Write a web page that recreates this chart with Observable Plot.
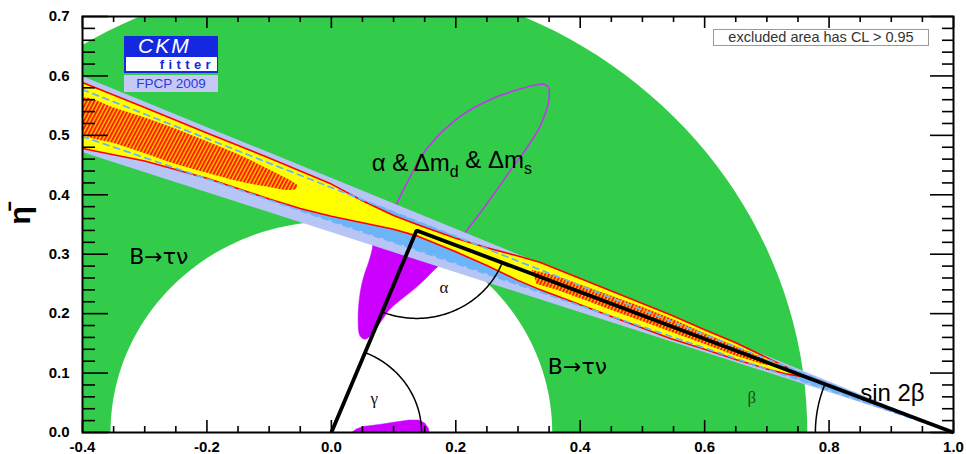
<!DOCTYPE html>
<html>
<head>
<meta charset="utf-8">
<script src="https://cdn.jsdelivr.net/npm/d3@7"></script>
<script src="https://cdn.jsdelivr.net/npm/@observablehq/plot@0.6"></script>
<style>
  body { margin: 0; background: #fff; }
  #wrap { position: relative; width: 966px; height: 454px; font-family: "Liberation Sans", Arial, sans-serif; }
  .legend { position: absolute; left: 713px; top: 29px; width: 214px; height: 15px; border: 1.5px solid #9a9a9a;
            background: #fff; color: #333; font-size: 14.5px; line-height: 15px; text-align: center; }
  .logo { position: absolute; left: 124px; top: 36px; width: 94px; }
  .logo .ckm { height: 21px; background: #1428e0; color: #fff; font-style: italic; font-size: 21px; line-height: 19px; padding-left: 14px; letter-spacing: 2px; }
  .logo .fit { height: 14px; background: #fff; border-left: 2px solid #1428e0; border-bottom: 2px solid #1428e0; border-right: 1px solid #1428e0;
               color: #1428e0; font-weight: bold; font-size: 13px; line-height: 16px; text-align: right; padding-right: 2px; letter-spacing: 4.4px; }
  .logo .fpcp { margin-top: 2px; height: 17px; background: #c6c9f6; color: #2a3adf; font-size: 13.5px; line-height: 17px; text-align: center; }
</style>
</head>
<body>
<svg width="0" height="0" style="position:absolute">
  <defs>
    <pattern id="hatch" width="3.4" height="3.4" patternUnits="userSpaceOnUse" patternTransform="rotate(28)">
      <rect width="3.4" height="3.4" fill="#ffcc00"></rect>
      <rect width="2" height="3.4" fill="#ff1a00"></rect>
    </pattern>
  </defs>
</svg>
<div id="wrap">
  <div id="chart"></div>
  <div class="logo">
    <div class="ckm">CKM</div>
    <div class="fit">fitter</div>
    <div class="fpcp">FPCP 2009</div>
  </div>
  <div class="legend">excluded area has CL &gt; 0.95</div>
</div>
<script>
// ---- axes ----
const xMajor = [-0.4, -0.2, 0.0, 0.2, 0.4, 0.6, 0.8, 1.0];
const xTickLabels = ["-0.4", "-0.2", "0.0", "0.2", "0.4", "0.6", "0.8", "1.0"];
const yMajor = [0.0, 0.1, 0.2, 0.3, 0.4, 0.5, 0.6, 0.7];
const yTickLabels = ["0.0", "0.1", "0.2", "0.3", "0.4", "0.5", "0.6", "0.7"];
const yAxisLabel = "η\u0304";

// ---- unitarity triangle apex (rho-bar, eta-bar) ----
const apex = [0.137, 0.340];

// ---- B -> tau nu annulus radii (inner, outer) ----
const tauNuRadii = [0.355, 0.765];

// ---- sin 2beta wedges from (1,0): eta at rho = -0.4 ----
const sin2bOuter = [0.471, 0.599];
const sin2bInner = [0.498, 0.577];

// ---- global fit 95% CL region (upper edge, then lower edge) ----
const fitTop = [[-0.4,0.589],[-0.3,0.547],[-0.2,0.504],[-0.1,0.462],[-0.05,0.44],[0.0,0.418],[0.05,0.39],
  [0.1,0.365],[0.14,0.349],[0.2,0.327],[0.25,0.311],[0.3,0.297],[0.336,0.286],[0.4,0.259],[0.45,0.238],
  [0.5,0.217],[0.545,0.198],[0.6,0.173],[0.65,0.151],[0.7,0.126],[0.735,0.108],[0.757,0.096]];
const fitBottom = [[0.757,0.094],[0.73,0.099],[0.7,0.107],[0.65,0.123],[0.6,0.140],[0.545,0.158],[0.5,0.176],
  [0.45,0.195],[0.4,0.215],[0.336,0.240],[0.3,0.256],[0.25,0.281],[0.2,0.304],[0.14,0.33],[0.1,0.342],
  [0.05,0.353],[0.0,0.364],[-0.05,0.377],[-0.1,0.393],[-0.2,0.428],[-0.3,0.457],[-0.4,0.478]];

// ---- 68% CL islands ----
const fit68Left = [[-0.4,0.562],[-0.35,0.547],[-0.3,0.53],[-0.25,0.511],[-0.2,0.49],[-0.15,0.468],[-0.11,0.448],
  [-0.08,0.432],[-0.062,0.422],[-0.055,0.416],[-0.057,0.41],[-0.07,0.408],[-0.1,0.413],[-0.15,0.423],
  [-0.2,0.437],[-0.25,0.452],[-0.3,0.47],[-0.35,0.487],[-0.4,0.505]];
const fit68Right = [[0.322,0.274],[0.36,0.264],[0.4,0.249],[0.45,0.23],[0.5,0.211],[0.55,0.19],[0.6,0.167],
  [0.65,0.145],[0.7,0.122],[0.7,0.113],[0.65,0.129],[0.6,0.149],[0.55,0.168],[0.5,0.187],[0.45,0.206],
  [0.4,0.226],[0.36,0.241],[0.33,0.25]];

// ---- alpha & dm_d & dm_s contour ----
const admContour = [[0.075,0.31],[0.085,0.335],[0.097,0.365],[0.110,0.396],[0.121,0.419],[0.132,0.441],
  [0.143,0.463],[0.158,0.483],[0.175,0.503],[0.195,0.522],[0.217,0.539],[0.245,0.555],[0.271,0.567],
  [0.300,0.577],[0.325,0.584],[0.342,0.586],[0.349,0.581],[0.350,0.562],[0.345,0.54],[0.333,0.51],
  [0.315,0.48],[0.295,0.452],[0.274,0.42],[0.25,0.385],[0.225,0.35],[0.21,0.33],[0.19,0.305],[0.169,0.278]];

// ---- alpha solutions (filled) ----
const alphaUpper = [[0.07,0.345],[0.19,0.33],[0.178,0.29],[0.16,0.268],[0.135,0.243],[0.11,0.222],[0.092,0.205],
  [0.082,0.19],[0.072,0.175],[0.062,0.162],[0.054,0.157],[0.046,0.163],[0.043,0.19],[0.046,0.233],
  [0.052,0.262],[0.06,0.287],[0.066,0.31]];
const alphaLower = [[0.033,0],[0.04,0.006],[0.051,0.01],[0.08,0.014],[0.105,0.018],[0.125,0.021],[0.14,0.021],
  [0.15,0.016],[0.156,0.007],[0.157,0]];

// ---- annotations ----
const decayLabels = [
  {text: "B→τν", x: -0.325, y: 0.295},
  {text: "B→τν", x: 0.348, y: 0.111}
];
const bigLabels = [
  {text: "sin 2β", x: 0.85, y: 0.066}
];
const angleLabels = [
  {text: "α", x: 0.181, y: 0.244, color: "#111"},
  {text: "γ", x: 0.069, y: 0.057, color: "#111"},
  {text: "β", x: 0.676, y: 0.059, color: "#155019"}
];
const admLabel = {x: 0.065, y: 0.453};

// ---- colours ----
const cGreen = "#33cc4a", cLavender = "#b6c4f6", cBlue = "#6cb4f8", cYellow = "#ffff00",
      cRed = "#ff0000", cMagenta = "#cc00ff", cMagentaLine = "#c433ee";

// ---- geometry helpers ----
function arc(cx, cy, r, a0, a1, n = 90) {
  return d3.range(n + 1).map(i => {
    const a = a0 + (a1 - a0) * i / n;
    return [cx + r * Math.cos(a), cy + r * Math.sin(a)];
  });
}
const annulus = arc(0, 0, tauNuRadii[1], 0, Math.PI).concat(arc(0, 0, tauNuRadii[0], Math.PI, 0));
const [rb, eb] = apex;
const triangle = [[0, 0], apex, [1, 0]];
const gammaArc = arc(0, 0, 0.145, 0, Math.atan2(eb, rb));
const alphaArc = arc(rb, eb, 0.148, Math.atan2(-eb, -rb), Math.atan2(-eb, 1 - rb));
const betaArc = arc(1, 0, 0.222, Math.atan2(eb, rb - 1), Math.PI);

const wedge = e => [{x: -0.4, y1: e[0], y2: e[1]}, {x: 1.0, y1: 0, y2: 0}];
const P = {x: d => d[0], y: d => d[1]};

const W = 966, H = 454, mL = 82, mR = 13, mT = 16, mB = 22;
const FW = W - mL - mR, FH = H - mT - mB;
const xMinor = d3.range(-8, 21).map(i => i * 0.05).filter(v => Math.abs(Math.round(v / 0.2) * 0.2 - v) > 1e-6 && v > -0.4 && v < 1.0);
const yMinor = d3.range(1, 35).map(i => i * 0.02).filter(v => Math.abs(Math.round(v / 0.1) * 0.1 - v) > 1e-6);

const tick = {stroke: "black", strokeWidth: 1.6};

const chart = Plot.plot({
  width: W, height: H,
  marginLeft: mL, marginRight: mR, marginTop: mT, marginBottom: mB,
  style: {fontFamily: "Liberation Sans, Arial, sans-serif", background: "white"},
  x: {domain: [-0.4, 1.0]},
  y: {domain: [0, 0.7]},
  marks: [
    // B -> tau nu
    Plot.line(annulus, {...P, fill: cGreen, stroke: "none", curve: "linear-closed", clip: true}),
    // alpha & dm_d & dm_s contour and alpha solutions
    Plot.line(admContour, {...P, stroke: cMagentaLine, strokeWidth: 1.6, curve: "catmull-rom"}),
    Plot.line(alphaUpper, {...P, fill: cMagenta, stroke: cMagenta, strokeWidth: 0.5, curve: "catmull-rom-closed"}),
    Plot.line(alphaLower, {...P, fill: cMagenta, stroke: cMagenta, strokeWidth: 0.5, curve: "linear-closed", clip: true}),
    // sin 2beta
    Plot.areaY(wedge(sin2bOuter), {x: "x", y1: "y1", y2: "y2", fill: cLavender}),
    Plot.areaY(wedge(sin2bInner), {x: "x", y1: "y1", y2: "y2", fill: cBlue}),
    // global fit
    Plot.line(fitTop.concat(fitBottom), {...P, fill: cYellow, stroke: cRed, strokeWidth: 1.6, curve: "linear-closed", clip: true}),
    Plot.line(fit68Left, {...P, fill: "url(#hatch)", stroke: "none", curve: "catmull-rom-closed", clip: true}),
    Plot.line(fit68Right, {...P, fill: "url(#hatch)", stroke: "none", curve: "linear-closed"}),
    Plot.line([[-0.4, sin2bInner[1]], [1, 0]], {...P, stroke: cBlue, strokeWidth: 1.8, strokeDasharray: "6,5"}),
    Plot.line([[-0.4, sin2bInner[0]], [1, 0]], {...P, stroke: cBlue, strokeWidth: 1.8, strokeDasharray: "6,5"}),
    // unitarity triangle and its angles
    Plot.line(gammaArc, {...P, stroke: "black", strokeWidth: 1.5}),
    Plot.line(alphaArc, {...P, stroke: "black", strokeWidth: 1.5}),
    Plot.line(betaArc, {...P, stroke: "black", strokeWidth: 1.5}),
    Plot.line(triangle, {...P, stroke: "black", strokeWidth: 3.8, strokeLinejoin: "miter", strokeLinecap: "butt"}),
    // labels
    Plot.text(decayLabels, {x: "x", y: "y", text: "text", textAnchor: "start", fontSize: 22, fill: "black",
      fontFamily: "DejaVu Sans, sans-serif", letterSpacing: -0.5}),
    Plot.text(bigLabels, {x: "x", y: "y", text: "text", textAnchor: "start", fontSize: 24, fill: "black"}),
    Plot.text(angleLabels, {x: "x", y: "y", text: "text", fill: "color", fontSize: 17, fontFamily: "Liberation Serif, serif"}),
    Plot.text([admLabel], {x: "x", y: "y", text: () => "adm", textAnchor: "start", fontSize: 24, fill: "black", className: "adm"}),
    Plot.text([yAxisLabel], {frameAnchor: "left", dx: -62, rotate: -90, fontSize: 30, fontWeight: "bold", text: d => d}),
    // frame and ticks
    Plot.frame({stroke: "black", strokeWidth: 2}),
    Plot.ruleX(xMajor, {x: d => d, insetTop: FH - 12, ...tick}),
    Plot.ruleX(xMinor, {x: d => d, insetTop: FH - 6, ...tick}),
    Plot.ruleX(xMajor, {x: d => d, insetBottom: FH - 12, ...tick}),
    Plot.ruleX(xMinor, {x: d => d, insetBottom: FH - 6, ...tick}),
    Plot.ruleY(yMajor, {y: d => d, insetRight: FW - 26, ...tick}),
    Plot.ruleY(yMinor, {y: d => d, insetRight: FW - 13, ...tick}),
    Plot.ruleY(yMajor, {y: d => d, insetLeft: FW - 23, ...tick}),
    Plot.ruleY(yMinor, {y: d => d, insetLeft: FW - 11, ...tick}),
    Plot.axisX(xMajor, {tickSize: 0, tickPadding: 9, label: null, fontSize: 15, fontWeight: "bold",
      tickFormat: d => xTickLabels[xMajor.indexOf(d)]}),
    Plot.axisY(yMajor, {tickSize: 0, tickPadding: 13, label: null, fontSize: 15, fontWeight: "bold",
      tickFormat: d => yTickLabels[yMajor.indexOf(d)]})
  ]
});

// subscripts for the alpha & dm_d & dm_s label
d3.select(chart).selectAll(".adm text").each(function () {
  const t = d3.select(this).text(null);
  t.append("tspan").text("α & Δm");
  t.append("tspan").attr("dy", "0.38em").attr("font-size", 16).text("d");
  t.append("tspan").attr("dy", "-0.38em").text(" & Δm");
  t.append("tspan").attr("dy", "0.38em").attr("font-size", 16).text("s");
});

document.getElementById("chart").append(chart);
</script>
</body>
</html>
